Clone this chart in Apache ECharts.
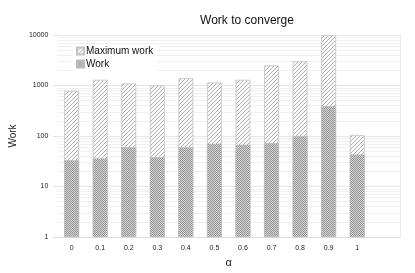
<!DOCTYPE html>
<html><head><meta charset="utf-8">
<script src="https://cdn.jsdelivr.net/npm/echarts@6/dist/echarts.min.js"></script>
<style>html,body{margin:0;padding:0;background:#fff}#c{width:415px;height:273px}</style>
</head><body><div id="c"></div>
<script>
var categories = ['0','0.1','0.2','0.3','0.4','0.5','0.6','0.7','0.8','0.9','1',''];
var maxWork = [780, 1300, 1100, 1000, 1400, 1150, 1300, 2500, 3000, 10000, 105, null];
var work = [33, 36, 60, 38, 60, 70, 67, 72, 100, 390, 43, null];
var minorLines = [2,3,4,5,6,7,8,9,20,30,40,50,60,70,80,90,200,300,400,500,600,700,800,900,2000,3000,4000,5000,6000,7000,8000,9000];

function hatch(){
  var c=document.createElement('canvas');c.width=4;c.height=4;
  var x=c.getContext('2d');x.fillStyle='#fafafa';x.fillRect(0,0,4,4);
  x.strokeStyle='#a8a8a8';x.lineWidth=0.9;
  x.beginPath();x.moveTo(-1,5);x.lineTo(5,-1);x.moveTo(-1,1);x.lineTo(1,-1);x.moveTo(3,5);x.lineTo(5,3);x.stroke();
  return c;
}
function cross(){
  var c=document.createElement('canvas');c.width=2;c.height=2;
  var x=c.getContext('2d');x.fillStyle='#d6d6d6';x.fillRect(0,0,2,2);
  x.fillStyle='#939393';x.fillRect(0,0,1,1);x.fillRect(1,1,1,1);
  return c;
}
var chart = echarts.init(document.getElementById('c'), null, {renderer:'canvas'});
chart.setOption({
  animation:false,
  title:{text:'Work to converge',left:242,top:10,textAlign:'center',textStyle:{fontFamily:'Liberation Sans',fontSize:12,fontWeight:'normal',color:'#111'}},
  legend:{orient:'vertical',left:73,top:44,itemWidth:7,itemHeight:7,itemGap:3,backgroundColor:'#fff',padding:[2,4,2,3],z:10,
    textStyle:{fontFamily:'Liberation Sans',fontSize:10,color:'#111',padding:[0,0,0,-3]},
    data:[{name:'Maximum work',icon:'rect'},{name:'Work',icon:'rect'}]},
  grid:{left:55,right:15,top:35,bottom:36,containLabel:false},
  xAxis:{type:'category',data:categories,name:'α',nameLocation:'middle',nameGap:20,
    nameTextStyle:{fontFamily:'Liberation Sans',fontSize:11,color:'#222'},
    axisLine:{lineStyle:{color:'#ddd'}},axisTick:{length:4,lineStyle:{color:'#ddd'}},
    axisLabel:{fontFamily:'Liberation Sans',fontSize:7,color:'#222',margin:8},
    splitLine:{show:false}},
  yAxis:[{type:'log',logBase:10,min:1,max:10000,name:'Work',nameLocation:'middle',nameGap:33,
    nameTextStyle:{fontFamily:'Liberation Sans',fontSize:10,color:'#222'},
    axisLine:{show:false},axisTick:{show:true,length:4,lineStyle:{color:'#ddd'}},
    axisLabel:{fontFamily:'Liberation Sans',fontSize:7,color:'#222',margin:9,formatter:function(v){return String(Math.round(v));}},
    splitLine:{lineStyle:{color:'#e6e6e6',width:1}}},
    {type:'log',logBase:10,min:1,max:10000,position:'right',axisLine:{show:true,lineStyle:{color:'#ececec'}},
     axisTick:{show:false},axisLabel:{show:false},splitLine:{show:false}}],
  series:[
    {name:'minor',type:'line',data:[],z:0,silent:true,
     markLine:{silent:true,z:0,symbol:'none',label:{show:false},lineStyle:{color:'#f0f0f0',type:'solid',width:1},
       data:minorLines.map(function(v){return {yAxis:v};})}},
    {name:'Maximum work',type:'bar',data:maxWork,barWidth:'52%',barGap:'-100%',z:2,
     itemStyle:{color:{image:hatch(),repeat:'repeat'},borderColor:'#c4c4c4',borderWidth:0.8}},
    {name:'Work',type:'bar',data:work,barWidth:'52%',barGap:'-100%',z:3,
     itemStyle:{color:{image:cross(),repeat:'repeat'},borderColor:'#bbb',borderWidth:0.6}}
  ]
});
</script></body></html>
